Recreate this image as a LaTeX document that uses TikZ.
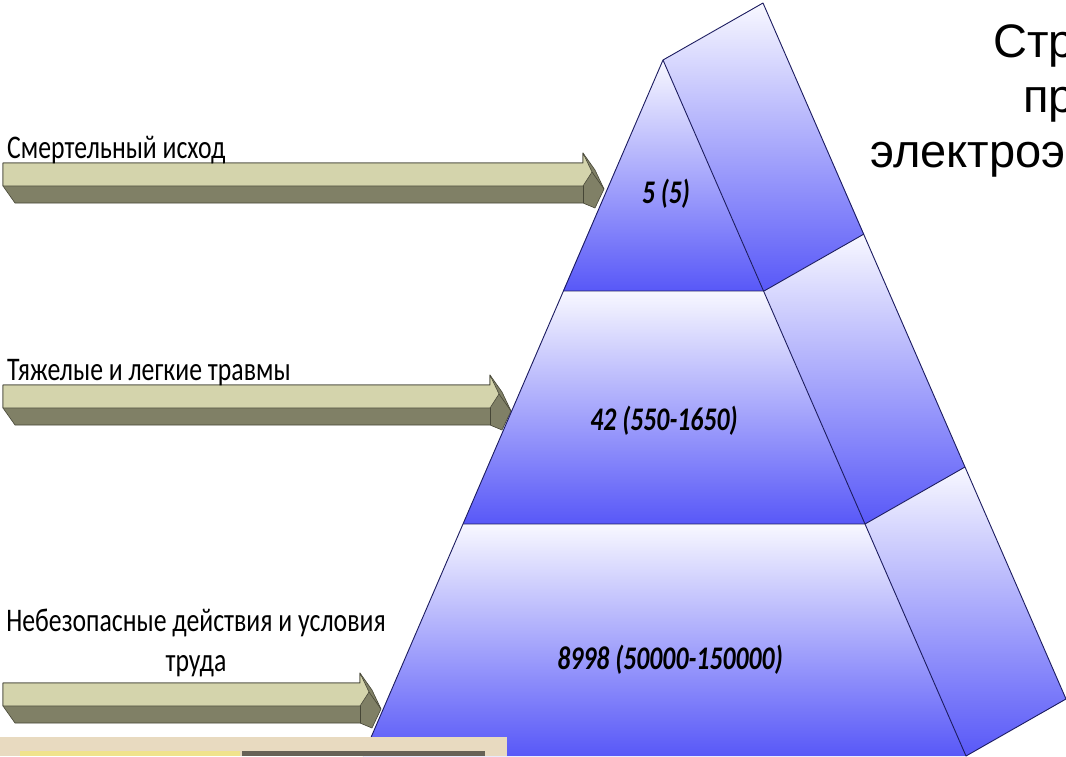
\documentclass[tikz,border=0pt]{standalone}
\usepackage{fontspec}
\setmainfont{Carlito}
\newfontfamily\titlefont{Liberation Sans}
\definecolor{pyrlight}{RGB}{248,248,255}
\definecolor{pyrblue}{RGB}{88,88,248}
\definecolor{pyredge}{RGB}{28,28,96}
\definecolor{arrlight}{RGB}{212,212,172}
\definecolor{arrdark}{RGB}{128,128,102}
\definecolor{arredge}{RGB}{70,70,54}
\definecolor{photobeige}{RGB}{232,218,192}
\newcommand{\narrow}[1]{\scalebox{0.78}[1]{#1}}
\begin{document}
\begin{tikzpicture}[x=1pt, y=-1pt, line join=round,
    face/.style={top color=pyrlight, bottom color=pyrblue},
    edge line/.style={draw=pyredge, line width=0.9pt},
    side label/.style={font=\fontsize{33}{40}\selectfont, inner sep=0pt, align=center},
    num label/.style={font=\fontsize{33}{40}\selectfont\bfseries\itshape, inner sep=0pt},
    title text/.style={font=\titlefont\fontsize{47}{55}\selectfont, inner sep=0pt, anchor=base west}]
                \useasboundingbox (0,0) rectangle (1066,756);
                \clip (0,0) rectangle (1066,756);
                \fill[white] (0,0) rectangle (1066,756);

                % flat 3d arrows
                \foreach \nm/\yt/\xn in {death/163/583, injury/385/490, unsafe/683/360} {
                    \filldraw[fill=arrdark, draw=arredge, line width=0.6pt] (3,\yt) -- (\xn,\yt) -- (\xn,\yt-10) -- (\xn+12,\yt+7)
                        -- (\xn+21,\yt+26) -- (\xn+12,\yt+45) -- (\xn,\yt+40) -- (15,\yt+40) -- (3,\yt+23) -- cycle;
                    \filldraw[fill=arrlight, draw=arredge, line width=0.6pt] (3,\yt) -- (\xn,\yt) -- (\xn,\yt-10)
                        -- (\xn+9,\yt+9) -- (\xn,\yt+23) -- (3,\yt+23) -- cycle;
                    \draw[arredge, line width=0.6pt] (\xn+9,\yt+9) -- (\xn+21,\yt+26);
                    \draw[arredge, line width=0.6pt] (\xn,\yt+23) -- (\xn,\yt+40);
                }

                \coordinate (apex) at (663,60);
                \coordinate (t1l) at (563,291);
                \coordinate (t1r) at (764,291);
                \coordinate (t2l) at (463,524);
                \coordinate (t2r) at (865,524);
                \coordinate (t3l) at (363,756);
                \coordinate (t3r) at (966,756);
                \coordinate (b0) at (763,3);
                \coordinate (b1) at (864,234);
                \coordinate (b2) at (965,467);
                \coordinate (b3) at (1066,699);

                \shade[face] (apex) -- (b0) -- (b1) -- (t1r) -- cycle;
                \shade[face] (t1r) -- (b1) -- (b2) -- (t2r) -- cycle;
                \shade[face] (t2r) -- (b2) -- (b3) -- (t3r) -- cycle;
                \shade[face] (apex) -- (t1r) -- (t1l) -- cycle;
                \shade[face] (t1l) -- (t1r) -- (t2r) -- (t2l) -- cycle;
                \shade[face] (t2l) -- (t2r) -- (t3r) -- (t3l) -- cycle;

                \draw[edge line] (t3l) -- (apex) -- (b0) -- (b3) -- (t3r) -- (apex);
                \draw[edge line] (t1l) -- (t1r) -- (b1);
                \draw[edge line] (t2l) -- (t2r) -- (b2);

                \node[num label] (n1) at (666,194) {\narrow{5 (5)}};
                \node[num label] (n2) at (664,421) {\narrow{42 (550-1650)}};
                \node[num label] (n3) at (670,660) {\narrow{8998 (50000-150000)}};

                \node[side label, anchor=base west] (l1) at (7,158) {\narrow{Смертельный исход}};
                \node[side label, anchor=base west] (l2) at (7,380) {\narrow{Тяжелые и легкие травмы}};
                \node[side label, anchor=base] (l3) at (196,671) {\narrow{Небезопасные действия и условия}\\\narrow{труда}};

                \node[title text] (h1) at (993,57) {Стр};
                \node[title text] (h2) at (1023,112) {пр};
                \node[title text] (h3) at (870,167) {электроэ};

                % cut photo at the bottom
                \fill[photobeige] (0,737) rectangle (507,756);
                \fill[yellow!30!photobeige] (20,751) rectangle (240,756);
                \fill[black!55!photobeige] (242,751) rectangle (485,756);
            \end{tikzpicture}
\end{document}
